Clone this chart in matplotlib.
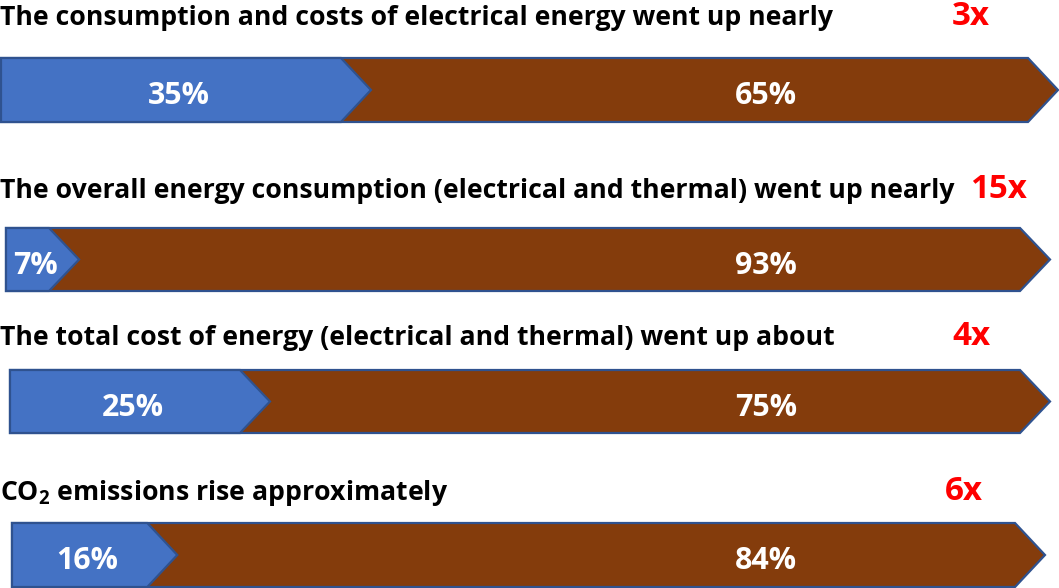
import matplotlib
matplotlib.use("Agg")
import matplotlib.pyplot as plt
from matplotlib.patches import Polygon

plt.rcParams["font.family"] = ["Open Sans", "DejaVu Sans"]
plt.rcParams["mathtext.fontset"] = "custom"
plt.rcParams["mathtext.rm"] = "Open Sans:bold"
plt.rcParams["mathtext.it"] = "Open Sans:bold"
plt.rcParams["mathtext.bf"] = "Open Sans:bold"

# Data
titles = [
    "The consumption and costs of electrical energy went up nearly",
    "The overall energy consumption (electrical and thermal) went up nearly",
    "The total cost of energy (electrical and thermal) went up about",
    "CO$_{2}$ emissions rise approximately",
]
multipliers = ["3x", "15x", "4x", "6x"]
first_share = [35, 7, 25, 16]
second_share = [65, 93, 75, 84]

# Layout (pixel coordinates, y downwards)
W, H = 1059, 588
bar_top = [58, 228, 370, 523]
bar_bottom = [122, 291, 433, 587]
bar_left = [1, 6, 10, 12]
bar_tip = [1058, 1050, 1050, 1045]
title_base = [25, 198, 345, 500]
mult_x = [952, 970, 952, 945]
depth = 30
second_label_x = 766
title_width = 832   # width of the first headline, px
label_width = 62    # width of a two-digit percentage label, px
mult_width = 38     # width of a one-digit multiplier, px

blue = "#4472C4"
brown = "#843C0C"
edge = "#2F528F"

fig = plt.figure(figsize=(W / 100, H / 100), dpi=100)
ax = fig.add_axes([0, 0, 1, 1])
ax.set_xlim(0, W)
ax.set_ylim(H, 0)
ax.axis("off")
renderer = fig.canvas.get_renderer()


def fitted_size(text, target_px, base=20):
    t = ax.text(0, 0, text, fontsize=base, fontweight="bold")
    w = t.get_window_extent(renderer).width
    t.remove()
    return base * target_px / w


title_size = fitted_size(titles[0], title_width)
label_size = fitted_size("65%", label_width)
mult_size = fitted_size("3x", mult_width)


def arrow(x0, x1, y0, y1, color, z):
    ym = (y0 + y1) / 2
    pts = [(x0, y0), (x1 - depth, y0), (x1, ym), (x1 - depth, y1), (x0, y1)]
    ax.add_patch(Polygon(pts, closed=True, facecolor=color, edgecolor=edge,
                         linewidth=1.6, joinstyle="miter", zorder=z))


for i in range(4):
    x0, x1 = bar_left[i], bar_tip[i]
    y0, y1 = bar_top[i], bar_bottom[i]
    ym = (y0 + y1) / 2
    arrow(x0, x1, y0, y1, brown, 1)
    tip = x0 + first_share[i] / 100 * (x1 - x0)
    arrow(x0, tip, y0, y1, blue, 2)

    ax.text((x0 + tip - depth / 2) / 2, ym + 14, f"{first_share[i]}%",
            color="white", fontsize=label_size, fontweight="bold",
            ha="center", va="baseline", zorder=3)
    ax.text(second_label_x, ym + 14, f"{second_share[i]}%",
            color="white", fontsize=label_size, fontweight="bold",
            ha="center", va="baseline", zorder=3)

    ax.text(0, title_base[i], titles[i], color="black",
            fontsize=title_size, fontweight="bold",
            ha="left", va="baseline")
    ax.text(mult_x[i], title_base[i], multipliers[i], color="#FF0000",
            fontsize=mult_size, fontweight="bold",
            ha="left", va="baseline")

fig.savefig("out.png", dpi=100)
